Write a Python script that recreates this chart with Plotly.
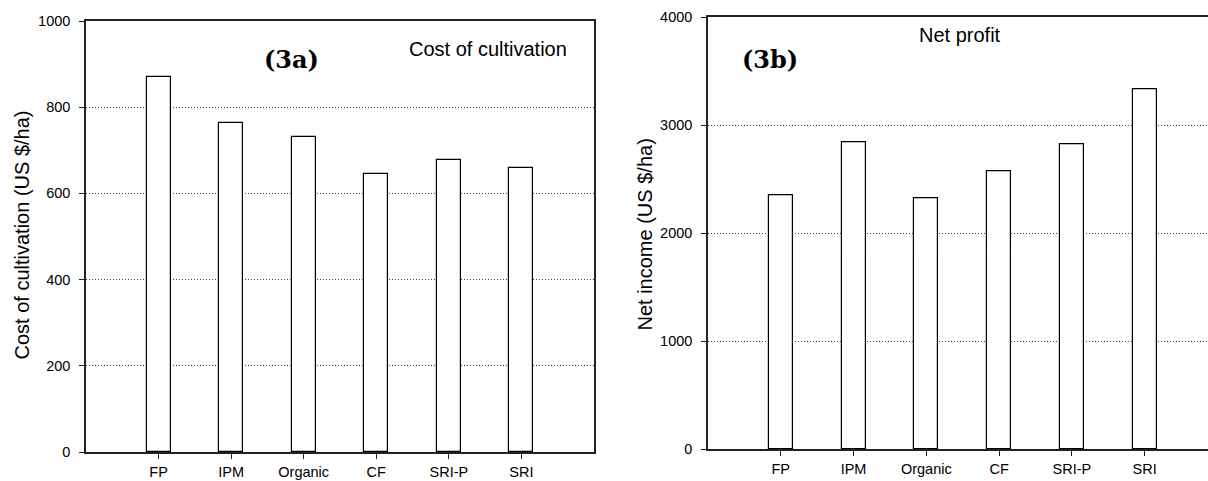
import plotly.graph_objects as go

categories = ["FP", "IPM", "Organic", "CF", "SRI-P", "SRI"]
cost_of_cultivation = [869, 764, 732, 645, 677, 660]
net_income = [2351, 2842, 2320, 2573, 2820, 3336]
cost_ticks = [0, 200, 400, 600, 800, 1000]
income_ticks = [0, 1000, 2000, 3000, 4000]

W, H = 1208, 481

def px_x(v):
    return v / W

def px_y(v):
    return 1 - v / H

fig = go.Figure()
bar_style = dict(marker=dict(color="white", line=dict(color="black", width=1.2)),
                 width=0.33, showlegend=False, hoverinfo="x+y")
fig.add_trace(go.Bar(x=categories, y=cost_of_cultivation, xaxis="x", yaxis="y", **bar_style))
fig.add_trace(go.Bar(x=categories, y=net_income, xaxis="x2", yaxis="y2", **bar_style))

tickfont = dict(family="Liberation Sans, Arial, sans-serif", size=14.5, color="black")
common_x = dict(type="category", showgrid=False, showline=True, linecolor="#222", linewidth=1.5,
                ticks="outside", ticklen=5, tickcolor="#222", tickwidth=1, tickfont=tickfont,
                ticklabelstandoff=1, automargin=False, zeroline=False, fixedrange=True,
                layer="above traces")
common_y = dict(showgrid=True, gridcolor="#444", gridwidth=1, griddash="1px,2px",
                showline=True, linecolor="#222", linewidth=1.5,
                ticks="outside", ticklen=5, tickcolor="#222", tickwidth=1, tickfont=tickfont,
                ticklabelstandoff=6, automargin=False, zeroline=False, fixedrange=True)

fig.update_layout(
    width=W, height=H,
    margin=dict(l=0, r=0, t=0, b=0, pad=0, autoexpand=False),
    paper_bgcolor="white", plot_bgcolor="white",
    bargap=0,
    xaxis=dict(domain=[px_x(86), px_x(594)], range=[-1, 6], anchor="y", mirror=True, **common_x),
    yaxis=dict(domain=[px_y(452), px_y(21)], range=[0, 1000], tickvals=cost_ticks,
               anchor="x", mirror=True, **common_y),
    xaxis2=dict(domain=[px_x(708), 1.0], range=[-1, 5.87], anchor="y2", mirror=True, **common_x),
    yaxis2=dict(domain=[px_y(449), px_y(17.3)], range=[0, 4000], tickvals=income_ticks,
                anchor="x2", mirror=False, **common_y),
)

title_font = dict(family="Liberation Sans, Arial, sans-serif", size=20, color="black")
panel_font = dict(family="DejaVu Serif, serif", size=24, color="black")
annotations = [
    dict(text="Cost of cultivation (US $/ha)", x=px_x(21), y=px_y(235.5), textangle=-90, font=title_font),
    dict(text="Net income (US $/ha)", x=px_x(644), y=px_y(234.5), textangle=-90, font=title_font),
    dict(text="<b>(3a)</b>", x=px_x(291), y=px_y(59), font=panel_font),
    dict(text="<b>(3b)</b>", x=px_x(770), y=px_y(59), font=panel_font),
    dict(text="Cost of cultivation", x=px_x(488), y=px_y(49), font=title_font),
    dict(text="Net profit", x=px_x(960), y=px_y(35), font=title_font),
]
for a in annotations:
    fig.add_annotation(xref="paper", yref="paper", showarrow=False,
                       xanchor="center", yanchor="middle", **a)

fig.write_html("out.html", config={"displayModeBar": False},
               post_script="document.body.style.margin='0';document.body.style.overflow='hidden';")
